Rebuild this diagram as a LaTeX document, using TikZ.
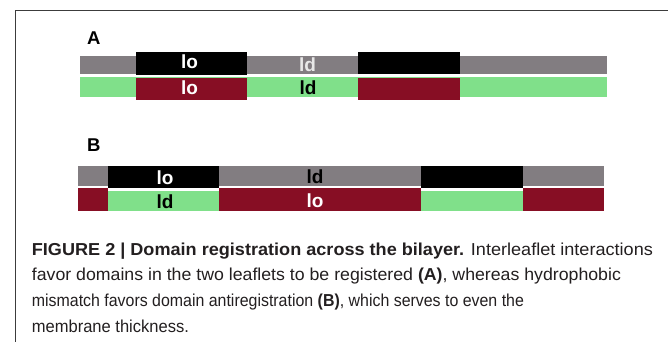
\documentclass[tikz,border=0pt]{standalone}
\usepackage{fontspec}
\usepackage{graphicx}
\setmainfont{Liberation Sans}
\newfontfamily\capfont{Liberation Sans}
\definecolor{memgray}{RGB}{130,125,129}
\definecolor{memgreen}{RGB}{128,224,138}
\definecolor{memred}{RGB}{135,14,36}
\definecolor{ldlight}{RGB}{232,232,232}
\definecolor{captext}{RGB}{35,31,32}
\definecolor{framecol}{RGB}{60,60,60}
\tikzset{
  lbl/.style={inner sep=0pt, anchor=base, font=\bfseries\fontsize{19}{20}\selectfont},
  panel/.style={inner sep=0pt, anchor=base west, font=\bfseries\fontsize{18.5}{20}\selectfont},
  capline/.style={inner sep=0pt, anchor=base west, text=captext, font=\capfont\fontsize{17.3}{18}\selectfont},
}
\newcommand{\segbox}[6]{% name, x1, y1, x2, y2, color
  \fill[#6] (#2,#3) rectangle (#4,#5);
  \coordinate (#1) at ({(#2+#4)/2},{(#3+#5)/2});
}
\newcommand{\fitline}[2]{\resizebox{#1pt}{\height}{#2}}
\begin{document}
\begin{tikzpicture}[x=1pt,y=-1pt]
\useasboundingbox (0,0) rectangle (668,342);
\fill[white] (0,0) rectangle (668,342);
% frame (top and left edges)
\coordinate (frameTR) at (668,10.5);
\coordinate (frameTL) at (15,10.5);
\coordinate (frameBL) at (15,342);
\draw[framecol, line width=1pt] (frameTR) -- (frameTL) -- (frameBL);

% ---------- Panel A ----------
\node[panel] (labA) at (87,45) {A};
\segbox{grayA}{80}{55.7}{606.7}{74}{memgray}
\segbox{greenA}{80}{77.3}{606.7}{97.3}{memgreen}
\segbox{blackAone}{136}{52.3}{246.7}{74.7}{black}
\segbox{blackAtwo}{357.5}{52.3}{460}{74.5}{black}
\segbox{redAone}{136}{77.7}{246.7}{100}{memred}
\segbox{redAtwo}{357.5}{77.7}{460}{100}{memred}
\node[lbl, text=white] (tA1) at (189.5,69) {lo};
\node[lbl, text=ldlight] (tA2) at (307.5,72) {ld};
\node[lbl, text=white] (tA3) at (189.5,95) {lo};
\node[lbl, text=black] (tA4) at (308,95) {ld};

% ---------- Panel B ----------
\node[panel] (labB) at (87,151) {B};
\segbox{grayB}{78.3}{166}{604}{186}{memgray}
\segbox{redB}{78.3}{188.3}{604}{210.7}{memred}
\fill[white] (108.3,187.7) rectangle (219,190.7);
\fill[white] (421,187.7) rectangle (523.3,190.7);
\segbox{blackBone}{108.3}{166}{219}{187.7}{black}
\segbox{blackBtwo}{421}{166}{523.3}{187.7}{black}
\segbox{greenBone}{108.3}{190.7}{219}{210.7}{memgreen}
\segbox{greenBtwo}{421}{190.7}{523.3}{210.7}{memgreen}
\node[lbl, text=white] (tB1) at (165,184) {lo};
\node[lbl, text=black] (tB2) at (315,183.3) {ld};
\node[lbl, text=black] (tB3) at (165,208) {ld};
\node[lbl, text=white] (tB4) at (315,207) {lo};

% ---------- Caption ----------
\node[capline] (cap1) at (31.7,255) {\fitline{621}{\textbf{FIGURE 2 | Domain registration across the bilayer.} Interleaflet interactions}};
\node[capline] (cap2) at (31.7,280.7) {\fitline{589}{favor domains in the two leaflets to be registered \textbf{(A)}, whereas hydrophobic}};
\node[capline] (cap3) at (31.7,306.3) {\fitline{492}{mismatch favors domain antiregistration \textbf{(B)}, which serves to even the}};
\node[capline] (cap4) at (31.7,332) {\fitline{157}{membrane thickness.}};
\end{tikzpicture}
\end{document}
